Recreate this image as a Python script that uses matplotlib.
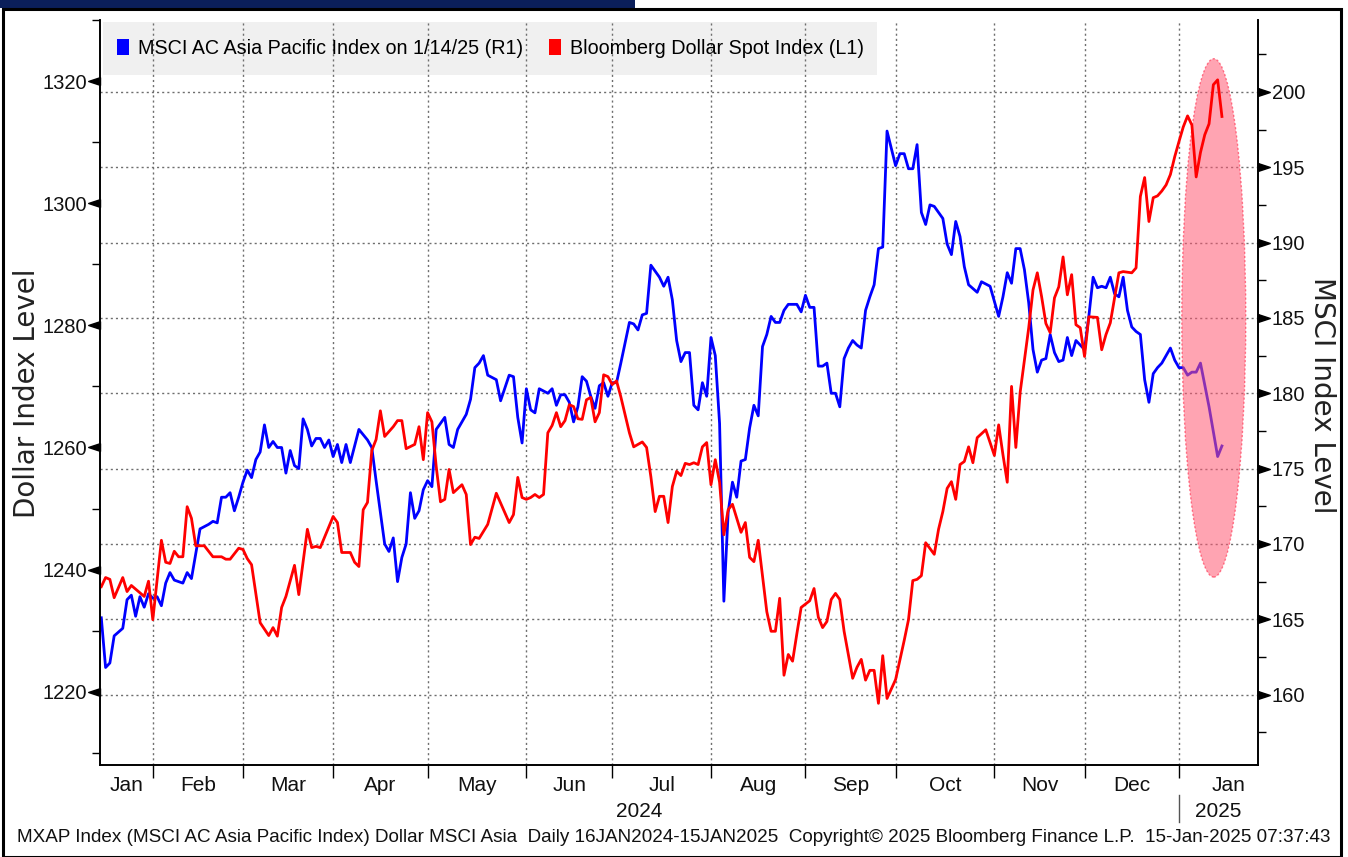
import numpy as np
import matplotlib.pyplot as plt
import matplotlib.transforms as mtransforms
from matplotlib import font_manager
from matplotlib.patches import Ellipse, Rectangle, Patch
from matplotlib.path import Path

# x = trading day counted from 16 Jan 2024 (weekdays only, as on the Bloomberg axis)
start = np.datetime64('2024-01-16')

# MSCI AC Asia Pacific Index (right axis)
msci_day = [0, 1, 2, 3, 5, 6, 7, 8, 9, 10,
            11, 12, 13, 14, 15, 16, 17, 19, 20, 21,
            23, 25, 26, 27, 28, 29, 30, 31, 32, 33,
            34, 35, 36, 37, 38, 39, 40, 41, 42, 43,
            44, 45, 46, 47, 48, 49, 50, 51, 52, 53,
            54, 55, 56, 57, 58, 60, 62, 63, 64, 66,
            67, 68, 69, 70, 71, 72, 73, 74, 75, 76,
            77, 78, 80, 81, 82, 83, 85, 86, 87, 88,
            89, 90, 92, 93, 95, 96, 97, 98, 99, 100,
            101, 102, 104, 105, 106, 107, 108, 109, 110, 111,
            112, 113, 114, 115, 116, 117, 118, 119, 120, 121,
            123, 124, 125, 126, 127, 128, 129, 130, 131, 132,
            133, 134, 135, 136, 137, 138, 139, 140, 141, 142,
            143, 144, 145, 146, 147, 148, 149, 150, 151, 152,
            153, 154, 155, 156, 157, 158, 159, 160, 162, 163,
            164, 165, 166, 167, 168, 169, 170, 171, 172, 173,
            174, 175, 176, 177, 178, 179, 180, 181, 182, 183,
            185, 186, 187, 188, 189, 190, 191, 192, 193, 194,
            195, 196, 197, 198, 199, 200, 201, 202, 204, 205,
            207, 208, 209, 210, 211, 212, 213, 214, 215, 216,
            217, 218, 219, 220, 221, 222, 223, 224, 225, 226,
            227, 228, 229, 230, 231, 232, 233, 234, 235, 236,
            237, 238, 239, 240, 241, 242, 243, 244, 245, 246,
            247, 249, 250, 251, 252, 253, 254, 255, 256, 258,
            260, 261]
msci_val = [165.1, 161.8, 162.1, 163.9, 164.4, 166.3, 166.6, 165.2, 166.5, 165.8,
            166.7, 166.4, 166.5, 165.9, 167.4, 168.1, 167.6, 167.4, 168.1, 167.7,
            171.0, 171.3, 171.5, 171.4, 173.1, 173.1, 173.4, 172.2, 173.1, 174.1,
            174.9, 174.4, 175.6, 176.1, 177.9, 176.4, 176.8, 176.4, 176.4, 174.7,
            176.2, 175.2, 175.0, 178.3, 177.6, 176.5, 177.0, 177.0, 176.4, 176.9,
            175.8, 176.6, 175.4, 176.6, 175.4, 177.6, 176.9, 176.4, 174.2, 170.0,
            169.5, 170.4, 167.5, 169.1, 170.0, 173.4, 171.7, 172.2, 173.6, 174.2,
            173.8, 177.6, 178.4, 176.6, 176.4, 177.6, 178.6, 179.6, 181.7, 182.0,
            182.5, 181.2, 180.9, 179.5, 181.2, 181.1, 178.4, 176.7, 180.3, 178.9,
            178.7, 180.3, 180.0, 180.3, 179.2, 179.9, 179.9, 179.4, 178.1, 179.1,
            181.1, 180.8, 179.8, 179.0, 180.5, 180.7, 179.8, 180.7, 180.7, 182.0,
            184.7, 184.6, 184.2, 185.2, 185.3, 188.5, 188.1, 187.7, 187.1, 187.7,
            186.2, 183.5, 182.1, 182.7, 182.7, 179.2, 178.9, 180.7, 179.8, 183.7,
            182.5, 178.0, 166.2, 172.1, 174.1, 173.1, 175.5, 175.6, 177.7, 179.2,
            178.5, 183.1, 183.9, 185.1, 184.7, 184.7, 185.5, 185.9, 185.9, 185.4,
            186.5, 185.7, 185.7, 181.8, 181.8, 182.0, 180.0, 180.0, 179.1, 182.3,
            183.0, 183.5, 183.2, 183.0, 185.5, 186.4, 187.2, 189.6, 189.7, 197.4,
            195.1, 195.9, 195.9, 194.9, 194.9, 196.5, 192.0, 191.2, 192.5, 192.4,
            192.0, 191.6, 189.9, 189.2, 191.4, 190.4, 188.4, 187.2, 186.7, 187.4,
            187.1, 186.1, 185.1, 186.4, 188.0, 187.3, 189.6, 189.6, 188.2, 186.0,
            182.9, 181.4, 182.2, 182.3, 183.9, 182.7, 182.1, 182.2, 183.7, 182.5,
            183.5, 183.2, 182.9, 185.1, 187.7, 187.0, 187.1, 187.0, 187.7, 186.6,
            186.4, 187.7, 185.5, 184.4, 184.1, 183.9, 180.9, 179.4, 181.3, 181.7,
            182.0, 183.0, 182.2, 181.7, 181.7, 181.2, 181.4, 181.4, 182.0, 179.1,
            175.8, 176.5]

# Bloomberg Dollar Spot Index (left axis)
dollar_day = [0, 1, 2, 3, 5, 6, 7, 10, 11, 12,
              14, 15, 16, 17, 18, 19, 20, 21, 22, 24,
              26, 28, 29, 30, 32, 33, 34, 35, 37, 39,
              40, 41, 42, 43, 45, 46, 48, 49, 50, 51,
              54, 55, 56, 58, 59, 60, 61, 62, 63, 64,
              65, 66, 68, 69, 70, 71, 73, 74, 75, 76,
              77, 78, 79, 80, 81, 82, 84, 85, 86, 87,
              88, 90, 92, 95, 96, 97, 98, 99, 100, 101,
              102, 103, 104, 105, 106, 107, 108, 109, 110, 111,
              112, 113, 114, 115, 116, 117, 118, 119, 120, 121,
              123, 124, 126, 127, 128, 129, 130, 131, 132, 133,
              134, 135, 136, 137, 138, 139, 140, 141, 142, 143,
              144, 145, 146, 147, 149, 150, 151, 152, 153, 155,
              156, 157, 158, 159, 160, 161, 162, 163, 165, 166,
              167, 168, 169, 170, 171, 172, 173, 175, 176, 177,
              178, 179, 180, 181, 182, 183, 185, 187, 188, 189,
              190, 191, 192, 194, 195, 196, 197, 198, 199, 200,
              201, 202, 203, 204, 206, 208, 209, 210, 211, 212,
              213, 214, 216, 217, 218, 219, 220, 221, 222, 223,
              224, 225, 226, 227, 228, 229, 230, 232, 233, 234,
              235, 237, 238, 240, 241, 242, 243, 244, 245, 246,
              247, 248, 249, 250, 251, 252, 253, 254, 255, 256,
              257, 258, 259, 260, 261]
dollar_val = [1237.2, 1238.7, 1238.4, 1235.4, 1238.7, 1236.4, 1237.4, 1235.6, 1238.1, 1231.8,
              1244.8, 1241.2, 1241.0, 1243.0, 1242.1, 1242.1, 1250.3, 1248.4, 1243.9, 1243.9,
              1242.1, 1242.1, 1241.7, 1241.7, 1243.5, 1243.3, 1241.8, 1240.8, 1231.3, 1229.2,
              1230.5, 1229.1, 1233.8, 1235.6, 1240.7, 1235.9, 1246.6, 1243.6, 1243.8, 1243.6,
              1248.7, 1247.7, 1242.8, 1242.8, 1241.2, 1240.5, 1249.8, 1251.0, 1259.5, 1261.3,
              1266.0, 1261.8, 1263.4, 1264.4, 1264.4, 1259.8, 1260.5, 1263.4, 1258.0, 1265.7,
              1264.2, 1256.9, 1251.1, 1251.5, 1256.4, 1252.6, 1253.9, 1252.3, 1244.1, 1245.3,
              1245.1, 1247.4, 1252.5, 1247.7, 1249.0, 1255.1, 1251.8, 1251.5, 1251.8, 1252.3,
              1251.8, 1252.3, 1262.4, 1263.6, 1265.7, 1263.4, 1264.4, 1267.0, 1266.7, 1264.7,
              1264.6, 1267.8, 1268.2, 1264.2, 1265.7, 1271.9, 1271.6, 1270.3, 1270.9, 1268.3,
              1262.4, 1260.1, 1260.9, 1260.0, 1255.2, 1249.5, 1252.0, 1252.0, 1247.7, 1253.6,
              1256.1, 1255.4, 1257.4, 1257.2, 1257.5, 1257.2, 1260.1, 1260.8, 1253.9, 1258.0,
              1254.3, 1245.7, 1249.8, 1250.7, 1246.1, 1247.7, 1242.0, 1241.3, 1244.8, 1233.1,
              1229.9, 1229.9, 1235.3, 1222.7, 1226.1, 1225.0, 1229.5, 1233.8, 1234.9, 1236.9,
              1232.2, 1230.5, 1231.5, 1235.1, 1236.1, 1235.1, 1229.9, 1222.2, 1224.0, 1225.3,
              1221.9, 1223.5, 1223.5, 1218.1, 1225.9, 1218.9, 1222.0, 1228.4, 1231.8, 1238.2,
              1238.4, 1239.0, 1244.4, 1242.5, 1246.6, 1249.5, 1253.3, 1254.4, 1251.5, 1257.2,
              1257.7, 1260.1, 1257.5, 1261.6, 1262.9, 1258.7, 1263.7, 1258.8, 1254.3, 1270.0,
              1260.0, 1269.0, 1279.6, 1285.8, 1288.6, 1284.7, 1280.3, 1278.8, 1284.5, 1286.3,
              1291.2, 1285.0, 1288.3, 1280.1, 1279.6, 1274.9, 1281.4, 1281.3, 1276.0, 1278.5,
              1280.4, 1288.6, 1288.8, 1288.6, 1289.4, 1301.1, 1304.2, 1297.0, 1300.9, 1301.2,
              1302.0, 1303.0, 1304.7, 1307.6, 1310.1, 1312.5, 1314.3, 1312.8, 1304.3, 1308.3,
              1311.2, 1313.0, 1319.4, 1320.2, 1314.2]

legend_labels = ['MSCI AC Asia Pacific Index on 1/14/25 (R1)', 'Bloomberg Dollar Spot Index (L1)']
month_names = ['Jan', 'Feb', 'Mar', 'Apr', 'May', 'Jun', 'Jul', 'Aug', 'Sep', 'Oct', 'Nov', 'Dec', 'Jan']
left_ticks = [1220, 1240, 1260, 1280, 1300, 1320]
right_ticks = [160, 165, 170, 175, 180, 185, 190, 195, 200]
footer = ("MXAP Index (MSCI AC Asia Pacific Index) Dollar MSCI Asia  Daily 16JAN2024-15JAN2025  "
          "Copyright\u00a9 2025 Bloomberg Finance L.P.  15-Jan-2025 07:37:43")

installed = {f.name for f in font_manager.fontManager.ttflist}
narrow = 'Liberation Sans Narrow' if 'Liberation Sans Narrow' in installed else 'Liberation Sans'
plt.rcParams['font.family'] = [narrow, 'DejaVu Sans']

# month boundaries as trading-day positions
month_starts = np.arange(np.datetime64('2024-02'), np.datetime64('2025-03'),
                         np.timedelta64(1, 'M')).astype('datetime64[D]')
month_pos = np.busday_count(start, month_starts)
x0, x1 = -0.3, 269.4

W, H = 1348, 857
fig = plt.figure(figsize=(W / 100, H / 100), dpi=100)
ax = fig.add_axes([100 / W, 92 / H, 1158 / W, 745 / H])
ax2 = ax.twinx()
ax.set_zorder(3)
ax.patch.set_visible(False)
ax2.set_zorder(2)

grid_kw = dict(color='#6e6e6e', lw=1.0, ls=(0, (1.5, 2.2)), zorder=0.5)
for p in month_pos[:-1]:
    ax2.axvline(p, **grid_kw)
for v in right_ticks:
    ax2.axhline(v, **grid_kw)

# legend backdrop
ax2.add_patch(Rectangle((0.003, 0.926), 0.668, 0.071, transform=ax2.transAxes,
                        facecolor='#f0f0f0', edgecolor='none', zorder=0.2))

ax2.plot(msci_day, msci_val, color='#0000ff', lw=2.0, zorder=2)
ax.plot(dollar_day, dollar_val, color='#ff0000', lw=2.0, zorder=2)

ax2.add_patch(Ellipse((259.1, 185.0), 14.9, 34.4, facecolor=(1, 0.35, 0.45), alpha=0.55,
                      edgecolor='#ff1a3c', lw=1.0, ls=(0, (1.5, 1.5)), zorder=3))

ax.set_xlim(x0, x1)
ax.set_ylim(1208, 1330)
ax2.set_ylim(155.33, 204.77)

ax.spines['top'].set_visible(False)
ax2.spines['top'].set_visible(False)
for a in (ax, ax2):
    for s in ['left', 'right', 'bottom']:
        a.spines[s].set_linewidth(1.2)
        a.spines[s].set_color('black')

# x axis: tick at each month start, labels centred in each month
ax.set_xticks(month_pos[:-1])
ax.set_xticklabels([])
ax.tick_params(axis='x', length=9, width=1, direction='out', color='black')
blend = mtransforms.blended_transform_factory(ax.transData, ax.transAxes)
edges = np.concatenate([[x0], month_pos])
for name, a, b in zip(month_names, edges[:-1], edges[1:]):
    ax.text((a + b) / 2, -0.027, name, transform=blend, ha='center', va='center',
            fontsize=15, color='#111111')
ax.text((x0 + month_pos[11]) / 2, -0.063, '2024', transform=blend, ha='center', va='center',
        fontsize=15, color='#111111')
ax.text((month_pos[11] + x1) / 2, -0.063, '2025', transform=blend, ha='center', va='center',
        fontsize=15, color='#111111')
ax.plot([month_pos[11]] * 2, [-0.04, -0.077], transform=blend, color='#555555', lw=1,
        clip_on=False)

# y axes: triangle markers for labelled ticks, short minor ticks
tri_left = Path([(0, 0.33), (0, -0.33), (-1, 0), (0, 0.33)])
tri_right = Path([(0, 0.33), (0, -0.33), (1, 0), (0, 0.33)])

ax.set_yticks(left_ticks)
ax.set_yticks(np.arange(1210, 1331, 20), minor=True)
ax.tick_params(axis='y', which='major', length=0, pad=9.5, labelsize=14.5, labelcolor='#111111')
ax.tick_params(axis='y', which='minor', length=6, width=1, direction='out')
lb = mtransforms.blended_transform_factory(ax.transAxes, ax.transData)
ax.plot(np.zeros(len(left_ticks)), left_ticks, transform=lb, marker=tri_left, ms=17,
        ls='none', color='black', clip_on=False)

ax2.set_yticks(right_ticks)
ax2.set_yticks(np.arange(157.5, 204, 5), minor=True)
ax2.tick_params(axis='y', which='major', length=0, pad=10, labelsize=14.5, labelcolor='#111111')
ax2.tick_params(axis='y', which='minor', length=6, width=1, direction='out')
rb = mtransforms.blended_transform_factory(ax2.transAxes, ax2.transData)
ax2.plot(np.ones(len(right_ticks)), right_ticks, transform=rb, marker=tri_right, ms=17,
         ls='none', color='black', clip_on=False)

handles = [Patch(facecolor='#0000ff', edgecolor='none'), Patch(facecolor='#ff0000', edgecolor='none')]
ax.legend(handles, legend_labels, loc='center left', bbox_to_anchor=(0.015, 0.962), ncol=2,
          frameon=False, fontsize=14.2, handlelength=0.58, handleheight=0.9, handletextpad=0.45,
          columnspacing=1.35, borderaxespad=0, borderpad=0)

fig.text(27 / W, 1 - 393 / H, 'Dollar Index Level', rotation=90, ha='center', va='center',
         fontsize=20, family='DejaVu Sans', color='#222222')
fig.text(1322 / W, 1 - 395 / H, 'MSCI Index Level', rotation=270, ha='center', va='center',
         fontsize=20, family='DejaVu Sans', color='#222222')
fig.text(17 / W, 1 - 838 / H, footer, ha='left', va='center', fontsize=13.6, color='#111111')

# screenshot frame
fig.patches.append(Rectangle((0, 1 - 8 / H), 635 / W, 8 / H, transform=fig.transFigure,
                             facecolor='#0b1f5a', edgecolor='none'))
fig.patches.append(Rectangle((3 / W, 0), 1338 / W, 1 - 9 / H, transform=fig.transFigure,
                             fill=False, edgecolor='black', lw=2.2))

fig.savefig('out.png', dpi=100)
